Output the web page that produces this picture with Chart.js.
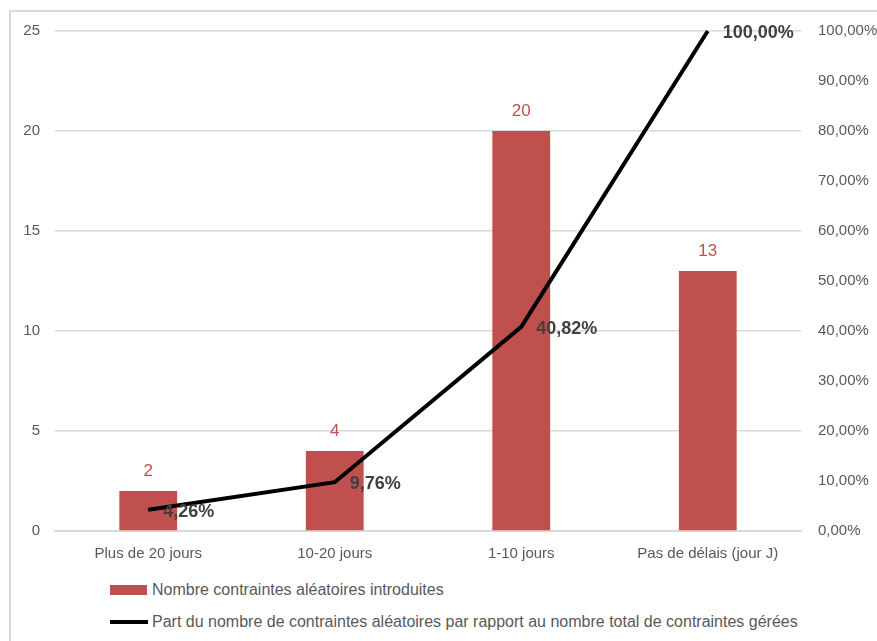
<!DOCTYPE html>
<html>
<head>
<meta charset="utf-8">
<script src="https://cdn.jsdelivr.net/npm/chart.js@4"></script>
<style>
  body { margin: 0; background: #fff; font-family: "Liberation Sans", Arial, sans-serif; }
  #cadre { position: absolute; left: 9px; top: 10px; width: 900px; height: 700px; border: 2px solid #D9D9D9; box-sizing: border-box; }
  #zone { position: absolute; left: 0; top: 0; width: 877px; height: 571px; }
  #legende { position: absolute; left: 110px; top: 580px; color: #595959; font-size: 16px; }
  .item { display: flex; align-items: center; height: 20px; margin-bottom: 12px; }
  .boite { width: 37px; height: 10px; margin-right: 5px; }
  .trait { width: 38px; height: 4px; margin-right: 4px; }
</style>
</head>
<body>
<div id="cadre"></div>
<div id="zone"><canvas id="graphique"></canvas></div>
<div id="legende"></div>
<script>
// Données
const categories = ['Plus de 20 jours', '10-20 jours', '1-10 jours', 'Pas de délais (jour J)'];
const nombreContraintes = [2, 4, 20, 13];
const partContraintes = [4.26, 9.76, 40.82, 100];
const libelleBarres = 'Nombre contraintes aléatoires introduites';
const libelleLigne = 'Part du nombre de contraintes aléatoires par rapport au nombre total de contraintes gérées';

const rouge = '#C0504D';
const gris = '#595959';
const police = '"Liberation Sans", Arial, sans-serif';

function formatPourcent(v) {
    return v.toFixed(2).replace('.', ',') + '%';
}

// Étiquettes de données dessinées à la main
const etiquettes = {
    id: 'etiquettes',
    afterDatasetsDraw(chart) {
        const ctx = chart.ctx;
        ctx.save();
        const barres = chart.getDatasetMeta(1);
        ctx.font = '17px ' + police;
        ctx.fillStyle = rouge;
        ctx.textAlign = 'center';
        ctx.textBaseline = 'middle';
        barres.data.forEach((el, i) => {
            ctx.fillText(String(nombreContraintes[i]), el.x, el.y - 20);
        });
        const ligne = chart.getDatasetMeta(0);
        ctx.font = 'bold 18px ' + police;
        ctx.fillStyle = '#404040';
        ctx.textAlign = 'left';
        ligne.data.forEach((el, i) => {
            ctx.fillText(formatPourcent(partContraintes[i]), el.x + 15, el.y + 2);
        });
        ctx.restore();
    }
};

const ctx = document.getElementById('graphique').getContext('2d');
const chart = new Chart(ctx, {
    type: 'bar',
    data: {
        labels: categories,
        datasets: [
            {
                type: 'line',
                label: libelleLigne,
                data: partContraintes,
                yAxisID: 'y2',
                borderColor: '#000',
                backgroundColor: '#000',
                borderWidth: 4,
                pointRadius: 0,
                tension: 0,
                clip: false,
                order: 0,
            },
            {
                type: 'bar',
                label: libelleBarres,
                data: nombreContraintes,
                yAxisID: 'y',
                backgroundColor: rouge,
                categoryPercentage: 1,
                barPercentage: 0.31,
                order: 1,
            },
        ],
    },
    options: {
        responsive: true,
        maintainAspectRatio: false,
        animation: false,
        layout: { padding: { top: 31, left: 0, right: 0, bottom: 0 } },
        plugins: {
            legend: { display: false },
            tooltip: { enabled: false },
        },
        scales: {
            x: {
                grid: { display: false },
                border: { display: true, color: '#D9D9D9', width: 2 },
                ticks: { color: gris, font: { size: 15, family: police }, padding: 6 },
                afterFit(s) { s.height = 40; },
            },
            y: {
                position: 'left',
                min: 0,
                max: 25,
                ticks: { stepSize: 5, color: gris, padding: 15, font: { size: 15, family: police } },
                grid: { color: '#D9D9D9', lineWidth: 1.5, drawTicks: false },
                border: { display: false },
                afterFit(s) { s.width = 55; },
            },
            y2: {
                position: 'right',
                min: 0,
                max: 100,
                ticks: {
                    stepSize: 10,
                    color: gris,
                    padding: 17,
                    font: { size: 15, family: police },
                    callback: v => formatPourcent(v),
                },
                grid: { display: false, drawTicks: false },
                border: { display: false },
                afterFit(s) { s.width = 76; },
            },
        },
    },
    plugins: [etiquettes],
});

// Légende empilée comme dans Excel
const legende = document.getElementById('legende');
[
    { cls: 'boite', couleur: rouge, texte: libelleBarres },
    { cls: 'trait', couleur: '#000', texte: libelleLigne },
].forEach(it => {
    const d = document.createElement('div');
    d.className = 'item';
    d.innerHTML = '<span class="' + it.cls + '" style="background:' + it.couleur + '"></span><span>' + it.texte + '</span>';
    legende.appendChild(d);
});
</script>
</body>
</html>
